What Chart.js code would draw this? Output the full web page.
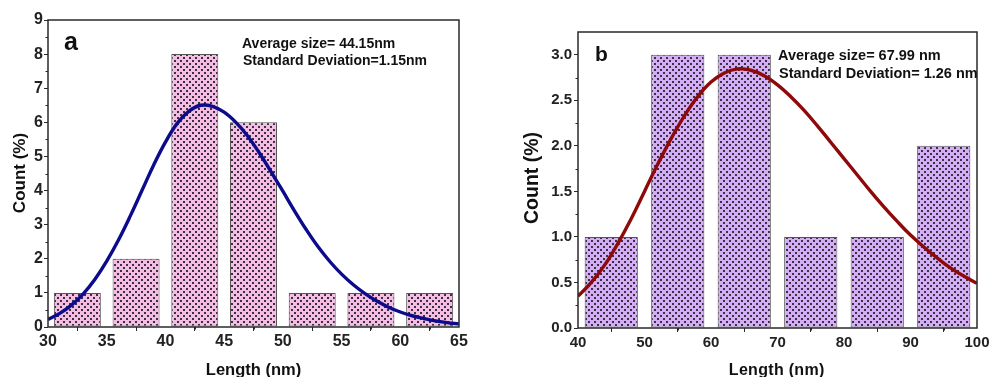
<!DOCTYPE html>
<html><head><meta charset="utf-8">
<script src="https://cdn.jsdelivr.net/npm/chart.js@4.4.1/dist/chart.umd.min.js"></script>
<style>
html,body{margin:0;padding:0;background:#fff;width:990px;height:377px;overflow:hidden}
#ca{position:absolute;left:0;top:0}
#cb{position:absolute;left:495px;top:0}
</style></head><body>
<canvas id="ca" width="480" height="377"></canvas>
<canvas id="cb" width="495" height="377"></canvas>
<script>
// ---------- Panel a data ----------
const binsA = [32.5, 37.5, 42.5, 47.5, 52.5, 57.5, 62.5];
const countsA = [1, 2, 8, 6, 1, 1, 1];
const fitXA = [30,31,32,33,34,35,36,37,38,39,40,41,42,43,44,45,46,47,48,49,50,51,52,53,54,55,56,57,58,59,60,61,62,63,64,65];
const fitYA = [0.22,0.4,0.64,0.97,1.4,1.93,2.55,3.25,4.0,4.75,5.42,5.97,6.33,6.5,6.47,6.3,6.0,5.6,5.1,4.55,3.98,3.4,2.85,2.35,1.92,1.55,1.24,0.98,0.76,0.58,0.44,0.33,0.25,0.18,0.13,0.09];
const xTicksA = [30, 35, 40, 45, 50, 55, 60, 65];
const yTicksA = [0, 1, 2, 3, 4, 5, 6, 7, 8, 9];
const statsA = ["Average size= 44.15nm", "Standard Deviation=1.15nm"];

// ---------- Panel b data ----------
const binsB = [45, 55, 65, 75, 85, 95];
const countsB = [1, 3, 3, 1, 1, 2];
const fitXB = [40,42,44,46,48,50,52,54,56,58,60,62,64,66,68,70,72,74,76,78,80,82,84,86,88,90,92,94,96,98,100];
const fitYB = [0.35,0.5,0.69,0.93,1.2,1.5,1.8,2.08,2.33,2.54,2.7,2.8,2.845,2.83,2.77,2.67,2.54,2.39,2.22,2.04,1.86,1.68,1.5,1.33,1.17,1.02,0.89,0.77,0.66,0.57,0.49];
const xTicksB = [40, 50, 60, 70, 80, 90, 100];
const yTicksB = [0, 0.5, 1.0, 1.5, 2.0, 2.5, 3.0];
const statsB = ["Average size= 67.99 nm", "Standard Deviation= 1.26 nm"];

const FONT = "'Liberation Sans', Arial, sans-serif";

function makePattern(bg, dot) {
  const c = document.createElement('canvas');
  c.width = 6; c.height = 6;
  const g = c.getContext('2d');
  g.fillStyle = bg; g.fillRect(0, 0, 6, 6);
  g.fillStyle = dot;
  g.fillRect(0, 0, 2, 2);
  g.fillRect(3, 3, 2, 2);
  return g.createPattern(c, 'repeat');
}

function mids(arr) {
  const out = [];
  for (let i = 0; i < arr.length - 1; i++) out.push((arr[i] + arr[i + 1]) / 2);
  return out;
}

const deco = {
  id: 'deco',
  afterDatasetsDraw(chart, args, o) {
    const {ctx, chartArea: a, scales: {x, y}} = chart;
    ctx.save();
    ctx.strokeStyle = '#2a2a2a';
    ctx.lineWidth = 1;
    ctx.beginPath();
    mids(o.xt).forEach(v => { const p = Math.round(x.getPixelForValue(v)) + 0.5; ctx.moveTo(p, a.bottom); ctx.lineTo(p, a.bottom + 2.5); });
    mids(o.yt).forEach(v => { const p = Math.round(y.getPixelForValue(v)) + 0.5; ctx.moveTo(a.left, p); ctx.lineTo(a.left - 2.5, p); });
    ctx.stroke();
    ctx.lineWidth = 1.5;
    ctx.strokeRect(a.left, a.top, a.right - a.left, a.bottom - a.top);
    ctx.fillStyle = '#111';
    o.texts.forEach(t => {
      ctx.save();
      ctx.font = t.font;
      ctx.letterSpacing = t.ls || '0px';
      ctx.textAlign = t.align || 'left';
      ctx.textBaseline = t.base || 'alphabetic';
      ctx.translate(t.x, t.y);
      if (t.rot) ctx.rotate(t.rot);
      ctx.fillText(t.text, 0, 0);
      ctx.restore();
    });
    ctx.restore();
  }
};

function build(id, cfg) {
  const fixY = s => { s.width = cfg.yw; s.paddingTop = 0; s.paddingBottom = 0; s.paddingLeft = 0; s.paddingRight = 0; };
  const fixX = s => { s.height = cfg.xh; s.paddingTop = 0; s.paddingBottom = 0; s.paddingLeft = 0; s.paddingRight = 0; };
  return new Chart(document.getElementById(id), {
    type: 'bar',
    data: {
      datasets: [
        {
          type: 'line',
          data: cfg.fx.map((v, i) => ({x: v, y: cfg.fy[i]})),
          borderColor: cfg.lineColor, borderWidth: 3.4, pointRadius: 0,
          tension: 0.4, fill: false, order: 1
        },
        {
          type: 'bar',
          data: cfg.bins.map((v, i) => ({x: v, y: cfg.counts[i]})),
          backgroundColor: makePattern(cfg.bg, cfg.dot),
          borderColor: '#555', borderWidth: 1, borderSkipped: false,
          barPercentage: 0.8, categoryPercentage: 1, order: 2
        }
      ]
    },
    options: {
      responsive: false, animation: false, events: [],
      layout: {padding: cfg.pad},
      plugins: {legend: {display: false}, tooltip: {enabled: false}, deco: cfg.deco},
      scales: {
        x: {
          type: 'linear', min: cfg.xt[0], max: cfg.xt[cfg.xt.length - 1], offset: false,
          afterBuildTicks: s => { s.ticks = cfg.xt.map(v => ({value: v})); },
          afterFit: fixX,
          border: {display: false},
          grid: {display: true, drawOnChartArea: false, drawTicks: true, tickLength: 4, color: '#2a2a2a', lineWidth: 1},
          ticks: {font: {family: FONT, size: cfg.tfs, weight: 'bold'}, color: '#222', padding: cfg.xpad, maxRotation: 0, autoSkip: false}
        },
        y: {
          type: 'linear', min: 0, max: cfg.ymax,
          afterBuildTicks: s => { s.ticks = cfg.yt.map(v => ({value: v})); },
          afterFit: fixY,
          border: {display: false},
          grid: {display: true, drawOnChartArea: false, drawTicks: true, tickLength: 4, color: '#2a2a2a', lineWidth: 1},
          ticks: {font: {family: FONT, size: cfg.tfs, weight: 'bold'}, color: '#222', padding: cfg.ypad, autoSkip: false,
                  callback: v => cfg.fmt(v)}
        }
      }
    },
    plugins: [deco]
  });
}

build('ca', {
  bins: binsA, counts: countsA, fx: fitXA, fy: fitYA, xt: xTicksA, yt: yTicksA, ymax: 9,
  lineColor: '#0b0b8c', bg: '#f5bde3', dot: '#3a3040',
  pad: {left: 0, right: 21, top: 20, bottom: 0}, yw: 48, xh: 50, tfs: 16, xpad: 1, ypad: 1,
  fmt: v => String(v),
  deco: {
    xt: xTicksA, yt: yTicksA,
    texts: [
      {text: 'a', x: 64, y: 50, font: `bold 25px ${FONT}`},
      {text: statsA[0], x: 242, y: 48, font: `bold 14px ${FONT}`},
      {text: statsA[1], x: 243, y: 65, font: `bold 14px ${FONT}`},
      {text: 'Count (%)', x: 20, y: 173, font: `bold 17px ${FONT}`, align: 'center', base: 'middle', rot: -Math.PI / 2},
      {text: 'Length (nm)', x: 253.5, y: 375, font: `bold 16.5px ${FONT}`, align: 'center'}
    ]
  }
});

build('cb', {
  bins: binsB, counts: countsB, fx: fitXB, fy: fitYB, xt: xTicksB, yt: yTicksB, ymax: 3.25,
  lineColor: '#8e0a0a', bg: '#d4adf7', dot: '#3a3040',
  pad: {left: 0, right: 13, top: 32, bottom: 0}, yw: 83, xh: 49, tfs: 15, xpad: 2, ypad: 2,
  fmt: v => v.toFixed(1),
  deco: {
    xt: xTicksB, yt: yTicksB,
    texts: [
      {text: 'b', x: 100, y: 61, font: `bold 21px ${FONT}`},
      {text: statsB[0], x: 283, y: 60, font: `bold 14.5px ${FONT}`},
      {text: statsB[1], x: 284, y: 78, font: `bold 14.5px ${FONT}`},
      {text: 'Count (%)', x: 38, y: 178, font: `bold 19.5px ${FONT}`, align: 'center', base: 'middle', rot: -Math.PI / 2},
      {text: 'Length (nm)', x: 281.7, y: 375, font: `bold 16px ${FONT}`, align: 'center', ls: '0.3px'}
    ]
  }
});
</script>
</body></html>
